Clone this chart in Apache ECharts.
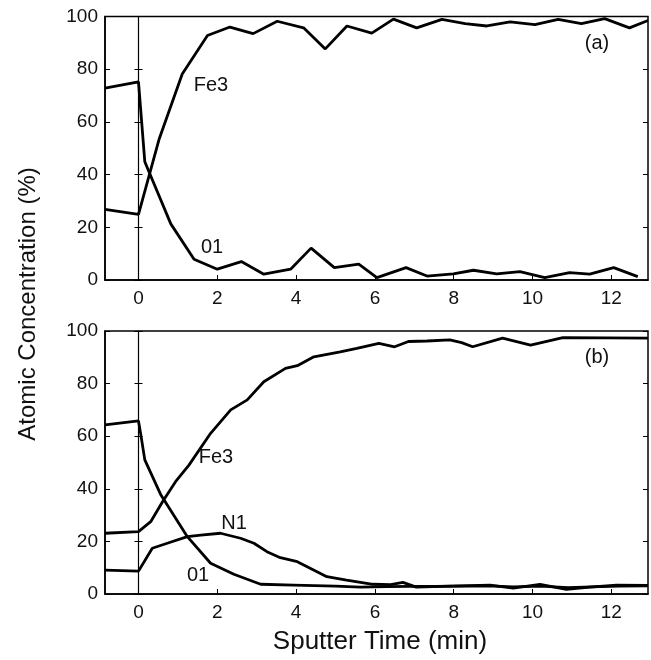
<!DOCTYPE html>
<html lang="en">
  <head>
    <meta charset="UTF-8" />
    <title>Sputter profile</title>
    <script src="https://cdn.jsdelivr.net/npm/echarts@6/dist/echarts.min.js"></script>
    <style>
      html, body { margin: 0; padding: 0; background: #fff; }
      #main { width: 651px; height: 660px; }
    </style>
  </head>
  <body>
    <div id="main"></div>
    <script>
      // panel (a)
      var aFe3X = [-0.85, 0, 0.52, 1.11, 1.75, 2.32, 2.91, 3.52, 4.19, 4.74, 5.29, 5.92, 6.47, 7.06, 7.7, 8.29, 8.84, 9.43, 10.06, 10.65, 11.24, 11.83, 12.46, 12.93];
      var aFe3Y = [26.8, 24.9, 53.3, 78.2, 92.8, 96.0, 93.5, 98.2, 95.7, 87.7, 96.4, 93.7, 99.0, 95.7, 98.9, 97.3, 96.4, 98.0, 96.9, 98.9, 97.3, 99.2, 95.7, 98.5];
      var aO1X = [-0.85, 0, 0.16, 0.82, 1.41, 2.0, 2.61, 3.18, 3.86, 4.38, 4.97, 5.59, 6.05, 6.79, 7.32, 7.99, 8.5, 9.09, 9.68, 10.31, 10.94, 11.45, 12.06, 12.67];
      var aO1Y = [72.8, 75.2, 44.9, 21.3, 7.9, 4.1, 7.0, 2.2, 4.1, 12.1, 4.7, 6.0, 0.9, 4.7, 1.5, 2.3, 3.7, 2.3, 3.2, 0.9, 2.8, 2.2, 4.7, 1.3];

      // panel (b)
      var bFe3X = [-0.85, 0, 0.31, 0.61, 0.94, 1.28, 1.83, 2.34, 2.76, 3.18, 3.73, 4.03, 4.45, 5.12, 5.54, 6.1, 6.5, 6.85, 7.32, 7.9, 8.2, 8.48, 9.24, 9.95, 10.77, 12.93];
      var bFe3Y = [23.1, 23.7, 27.5, 35.1, 42.7, 49.0, 61.1, 70.0, 73.8, 80.7, 85.8, 86.8, 90.2, 92.1, 93.4, 95.3, 94.0, 96.0, 96.2, 96.6, 95.6, 94.0, 97.3, 94.6, 97.5, 97.3];
      var bO1X = [-0.85, 0, 0.06, 0.16, 0.57, 1.24, 1.83, 2.42, 3.1, 3.93, 5.0, 5.63, 6.3, 6.9, 7.5, 8.2, 8.9, 9.5, 10.2, 10.9, 11.5, 12.2, 12.93];
      var bO1Y = [64.3, 65.8, 60.5, 51.0, 37.6, 21.8, 11.7, 7.5, 3.7, 3.4, 3.0, 2.6, 2.8, 2.9, 2.9, 3.0, 3.1, 2.7, 3.0, 2.4, 2.7, 3.0, 3.1];
      var bN1X = [-0.85, 0, 0.35, 0.73, 1.24, 1.58, 2.08, 2.59, 2.93, 3.26, 3.6, 4.03, 4.78, 5.28, 5.95, 6.4, 6.71, 7.05, 7.9, 8.92, 9.51, 10.19, 10.86, 11.45, 12.13, 12.93];
      var bN1Y = [9.1, 8.7, 17.4, 19.3, 21.8, 22.4, 23.1, 21.2, 19.3, 16.1, 13.8, 12.3, 6.6, 5.3, 3.7, 3.6, 4.4, 2.6, 3.0, 3.4, 2.2, 3.7, 1.8, 2.6, 3.4, 3.3];

      var xTicks = [0, 2, 4, 6, 8, 10, 12];

      var FONT = "Liberation Sans, Arial, sans-serif";

      function pairs(xs, ys) {
        return xs.map(function (x, i) { return [x, ys[i]]; });
      }

      function xAxisFor(grid) {
        return {
          type: "value", gridIndex: grid, min: -0.85, max: 12.93,
          axisLine: { onZero: false, lineStyle: { color: "#000", width: 1.5 } },
          axisTick: { inside: true, length: 5, customValues: xTicks, lineStyle: { color: "#000" } },
          axisLabel: { customValues: xTicks, fontSize: 19, color: "#111", fontFamily: FONT, margin: 9 },
          splitLine: { show: false }
        };
      }

      function yAxesFor(grid, xIdx) {
        var base = { type: "value", gridIndex: grid, min: 0, max: 100, interval: 20, splitLine: { show: false } };
        return [
          Object.assign({}, base, {
            position: "left",
            axisLine: { show: true, onZero: false, lineStyle: { color: "#000", width: 1.5 } },
            axisTick: { inside: true, length: 5, lineStyle: { color: "#000" } },
            axisLabel: { fontSize: 19, color: "#111", fontFamily: FONT, margin: 7 }
          }),
          Object.assign({}, base, {
            position: "left",
            axisLine: { show: true, onZero: true, onZeroAxisIndex: xIdx, lineStyle: { color: "#000", width: 1.2 } },
            axisTick: { inside: false, length: 4, lineStyle: { color: "#000" } },
            axisLabel: { show: false }
          }),
          Object.assign({}, base, {
            position: "left",
            axisLine: { show: false, onZero: true, onZeroAxisIndex: xIdx },
            axisTick: { inside: true, length: 4, lineStyle: { color: "#000" } },
            axisLabel: { show: false }
          }),
          Object.assign({}, base, {
            position: "right",
            axisLine: { show: false, onZero: false },
            axisTick: { inside: true, length: 5, lineStyle: { color: "#000" } },
            axisLabel: { show: false }
          })
        ];
      }

      function line(data, xIdx, yIdx) {
        return {
          type: "line", xAxisIndex: xIdx, yAxisIndex: yIdx, data: data,
          showSymbol: false, silent: true, animation: false,
          lineStyle: { color: "#000", width: 2.8 }
        };
      }

      function label(text, x, y, size) {
        return {
          type: "text", x: x, y: y,
          style: { text: text, fill: "#111", font: (size || 20) + "px " + FONT, align: "center", verticalAlign: "middle" }
        };
      }

      var chart = echarts.init(document.getElementById("main"));
      var option = {
        animation: false,
        backgroundColor: "#fff",
        grid: [
          { left: 105, top: 16.5, width: 543, height: 263.5, show: true, borderColor: "#000", borderWidth: 1.5 },
          { left: 105, top: 331, width: 543, height: 263, show: true, borderColor: "#000", borderWidth: 1.5 }
        ],
        xAxis: [xAxisFor(0), xAxisFor(1)],
        yAxis: yAxesFor(0, 0).concat(yAxesFor(1, 1)),
        series: [
          line(pairs(aFe3X, aFe3Y), 0, 0),
          line(pairs(aO1X, aO1Y), 0, 0),
          line(pairs(bFe3X, bFe3Y), 1, 4),
          line(pairs(bO1X, bO1Y), 1, 4),
          line(pairs(bN1X, bN1Y), 1, 4)
        ],
        graphic: [
          label("(a)", 597, 43, 20),
          label("(b)", 597, 357, 20),
          label("Fe3", 211, 85),
          label("01", 212, 247),
          label("Fe3", 216, 457),
          label("N1", 234, 523),
          label("01", 198, 575),
          label("Sputter Time (min)", 380, 642, 26),
          {
            type: "text", x: 28, y: 304, rotation: Math.PI / 2,
            style: { text: "Atomic Concentration (%)", fill: "#111", font: "24px " + FONT, align: "center", verticalAlign: "middle" }
          }
        ]
      };
      chart.setOption(option);
    </script>
  </body>
</html>
